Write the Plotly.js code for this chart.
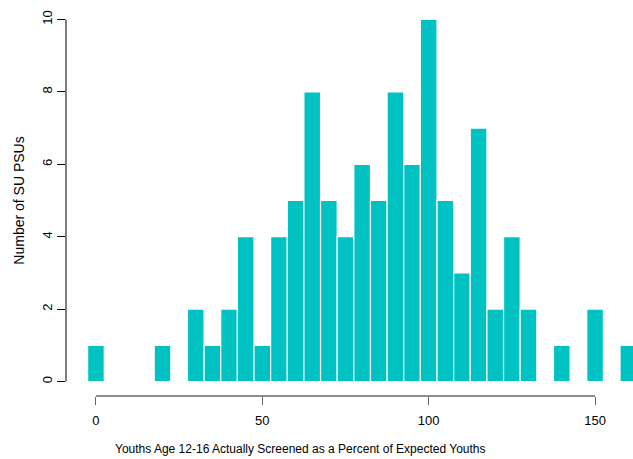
<!DOCTYPE html>
<html>
<head>
<meta charset="utf-8">
<script src="https://cdn.plot.ly/plotly-3.0.1.min.js"></script>
<style>html,body{margin:0;padding:0;background:#fff;}#chart{width:633px;height:459px;}</style>
</head>
<body>
<div id="chart"></div>
<script>
var binCenters = [0,5,10,15,20,25,30,35,40,45,50,55,60,65,70,75,80,85,90,95,100,105,110,115,120,125,130,135,140,145,150,155,160];
var counts     = [1,0,0,0,1,0,2,1,2,4,1,4,5,8,5,4,6,5,8,6,10,5,3,7,2,4,2,0,1,0,2,0,1];
var xTicks = [0,50,100,150];
var yTicks = [0,2,4,6,8,10];
var xTitle = "Youths Age 12-16 Actually Screened as a Percent of Expected Youths";
var yTitle = "Number of SU PSUs";

var trace = {
  type: 'bar',
  x: binCenters,
  y: counts,
  width: 5,
  marker: {color: '#00C2C2', line: {color: '#ffffff', width: 1.2}},
  hoverinfo: 'x+y'
};

var layout = {
  width: 633, height: 459,
  margin: {l: 66, r: 0, t: 5, b: 63},
  paper_bgcolor: '#fff', plot_bgcolor: '#fff',
  showlegend: false,
  bargap: 0,
  font: {family: 'Liberation Sans, Arial, sans-serif', size: 13, color: '#000'},
  xaxis: {
    range: [-9.0, 161.4],
    tickvals: xTicks, ticktext: xTicks.map(String),
    ticks: 'outside', ticklen: 8, tickwidth: 1, tickcolor: '#666',
    ticklabelstandoff: 4,
    showline: false, showgrid: false, zeroline: false,
    tickfont: {size: 13}
  },
  yaxis: {
    range: [-0.4, 10.4],
    tickvals: yTicks, ticktext: yTicks.map(String),
    tickangle: -90,
    ticks: 'outside', ticklen: 8, tickwidth: 1, tickcolor: '#000',
    showline: false, showgrid: false, zeroline: false,
    tickfont: {size: 13},
    title: {text: yTitle, font: {size: 14}, standoff: 11}
  },
  annotations: [
    {text: xTitle, xref: 'paper', yref: 'paper', x: (300-66)/567, y: 0, yshift: -53,
     xanchor: 'center', yanchor: 'middle', showarrow: false, font: {size: 12}}
  ],
  shapes: [
    {type: 'line', xref: 'paper', yref: 'y', x0: 0, x1: 0, y0: yTicks[0], y1: yTicks[yTicks.length-1], line: {color: '#000', width: 1}},
    {type: 'line', xref: 'x', yref: 'paper', x0: xTicks[0], x1: xTicks[xTicks.length-1], y0: 0, y1: 0, line: {color: '#666', width: 1.5}},
    {type: 'line', xref: 'x', yref: 'y', x0: binCenters[0]-2.5, x1: 161.4, y0: 0, y1: 0, line: {color: '#e6f4f4', width: 1}, layer: 'below'}
  ]
};

Plotly.newPlot('chart', [trace], layout, {displayModeBar: false, staticPlot: true});
</script>
</body>
</html>
